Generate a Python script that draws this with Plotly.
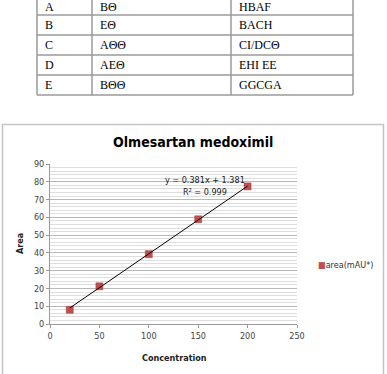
import plotly.graph_objects as go

# ---- data ----
table_col1 = ["A", "B", "C", "D", "E"]
table_col2 = ["BΘ", "EΘ", "AΘΘ", "AEΘ", "BΘΘ"]
table_col3 = ["HBAF", "BACH", "CI/DCΘ", "EHI EE", "GGCGA"]

concentration = [20, 50, 100, 150, 200]
area = [8.0, 21.2, 39.3, 58.9, 77.4]
slope = 0.381
intercept = 1.381
equation_text = "y = 0.381x + 1.381<br>R² = 0.999"
series_name = "area(mAU*)"
title_text = "Olmesartan medoximil"

W, H = 387, 374
L, R, T, B = 50, 90, 164, 50
PW, PH = W - L - R, H - T - B


def px(x):
    return (x - L) / PW


def py(y):
    return (H - B - y) / PH


fig = go.Figure()
fig.add_trace(go.Scatter(
    x=concentration, y=area, mode="markers", name=series_name,
    marker=dict(symbol="square", size=7, color="#C0504D",
                line=dict(color="#A33E3B", width=0.5)),
    showlegend=False))
tx = [min(concentration), max(concentration)]
fig.add_trace(go.Scatter(
    x=tx, y=[slope * v + intercept for v in tx], mode="lines",
    line=dict(color="black", width=1), showlegend=False, hoverinfo="skip"))

shapes = []
annotations = []
# table grid
tbl_color = "#9a9a9a"
col_x = [37, 92, 231, 353]
row_y = [-6, 15, 35, 55, 75, 95]
for xv in col_x:
    shapes.append(dict(type="line", xref="paper", yref="paper",
                       x0=px(xv), x1=px(xv), y0=py(row_y[0]), y1=py(row_y[-1]),
                       line=dict(color=tbl_color, width=1.5)))
for yv in row_y[1:]:
    shapes.append(dict(type="line", xref="paper", yref="paper",
                       x0=px(col_x[0]), x1=px(col_x[-1]), y0=py(yv), y1=py(yv),
                       line=dict(color=tbl_color, width=1.5)))
tfont = dict(family="Liberation Serif, DejaVu Serif, serif", size=12, color="black")
for i in range(len(table_col1)):
    yc = (row_y[i] + row_y[i + 1]) / 2 if i > 0 else 7
    for txt, xs in zip((table_col1[i], table_col2[i], table_col3[i]), (43, 98, 237)):
        annotations.append(dict(text=txt, xref="paper", yref="paper", x=px(xs), y=py(yc),
                                xanchor="left", yanchor="middle", showarrow=False, font=tfont))

# chart box
shapes.append(dict(type="rect", xref="paper", yref="paper",
                   x0=px(2.5), x1=px(383.5), y0=py(376), y1=py(124.5),
                   line=dict(color="#c4c4c4", width=1.5)))

narrow = "Liberation Sans Narrow, DejaVu Sans Condensed, Liberation Sans, sans-serif"
# equation
annotations.append(dict(text=equation_text, x=px(205), y=py(185.5), xref="paper", yref="paper",
                        showarrow=False, xanchor="center", yanchor="middle", align="center",
                        font=dict(family=narrow, size=9, color="#222")))
# legend
annotations.append(dict(text='<span style="color:#C0504D">■</span>' + series_name,
                        x=px(316), y=py(264.5), xref="paper", yref="paper",
                        showarrow=False, xanchor="left", yanchor="middle",
                        font=dict(family=narrow, size=9, color="#333")))
# axis titles
annotations.append(dict(text="<b>Area</b>", x=px(20), y=py(244), xref="paper", yref="paper",
                        showarrow=False, textangle=-90, xanchor="center", yanchor="middle",
                        font=dict(family=narrow, size=9, color="#222")))
annotations.append(dict(text="<b>Concentration</b>", x=px(174), y=py(358), xref="paper", yref="paper",
                        showarrow=False, xanchor="center", yanchor="middle",
                        font=dict(family=narrow, size=9, color="#222")))
annotations.append(dict(text="<b>" + title_text + "</b>", x=px(192.5), y=py(142), xref="paper", yref="paper",
                        showarrow=False, xanchor="center", yanchor="middle",
                        font=dict(family="DejaVu Sans Condensed, Liberation Sans Narrow, DejaVu Sans, sans-serif",
                                  size=14, color="black")))

tickfont = dict(family=narrow, size=9, color="#444")
fig.update_layout(
    width=W, height=H, margin=dict(l=L, r=R, t=T, b=B),
    paper_bgcolor="white", plot_bgcolor="white",
    shapes=shapes, annotations=annotations,
    xaxis=dict(range=[0, 250], dtick=50, tick0=0, showgrid=False, zeroline=False,
               showline=True, linecolor="#9a9a9a", linewidth=1,
               ticks="outside", ticklen=3, tickcolor="#9a9a9a", tickfont=tickfont),
    yaxis=dict(range=[0, 90], dtick=10, tick0=0, showgrid=True, gridcolor="#b8b8b8", gridwidth=1,
               zeroline=False, showline=True, linecolor="#9a9a9a", linewidth=1,
               ticks="outside", ticklen=3, tickcolor="#9a9a9a", tickfont=tickfont,
               minor=dict(dtick=2, showgrid=True, gridcolor="#dedede", gridwidth=1)),
)
fig.write_html("out.html")
